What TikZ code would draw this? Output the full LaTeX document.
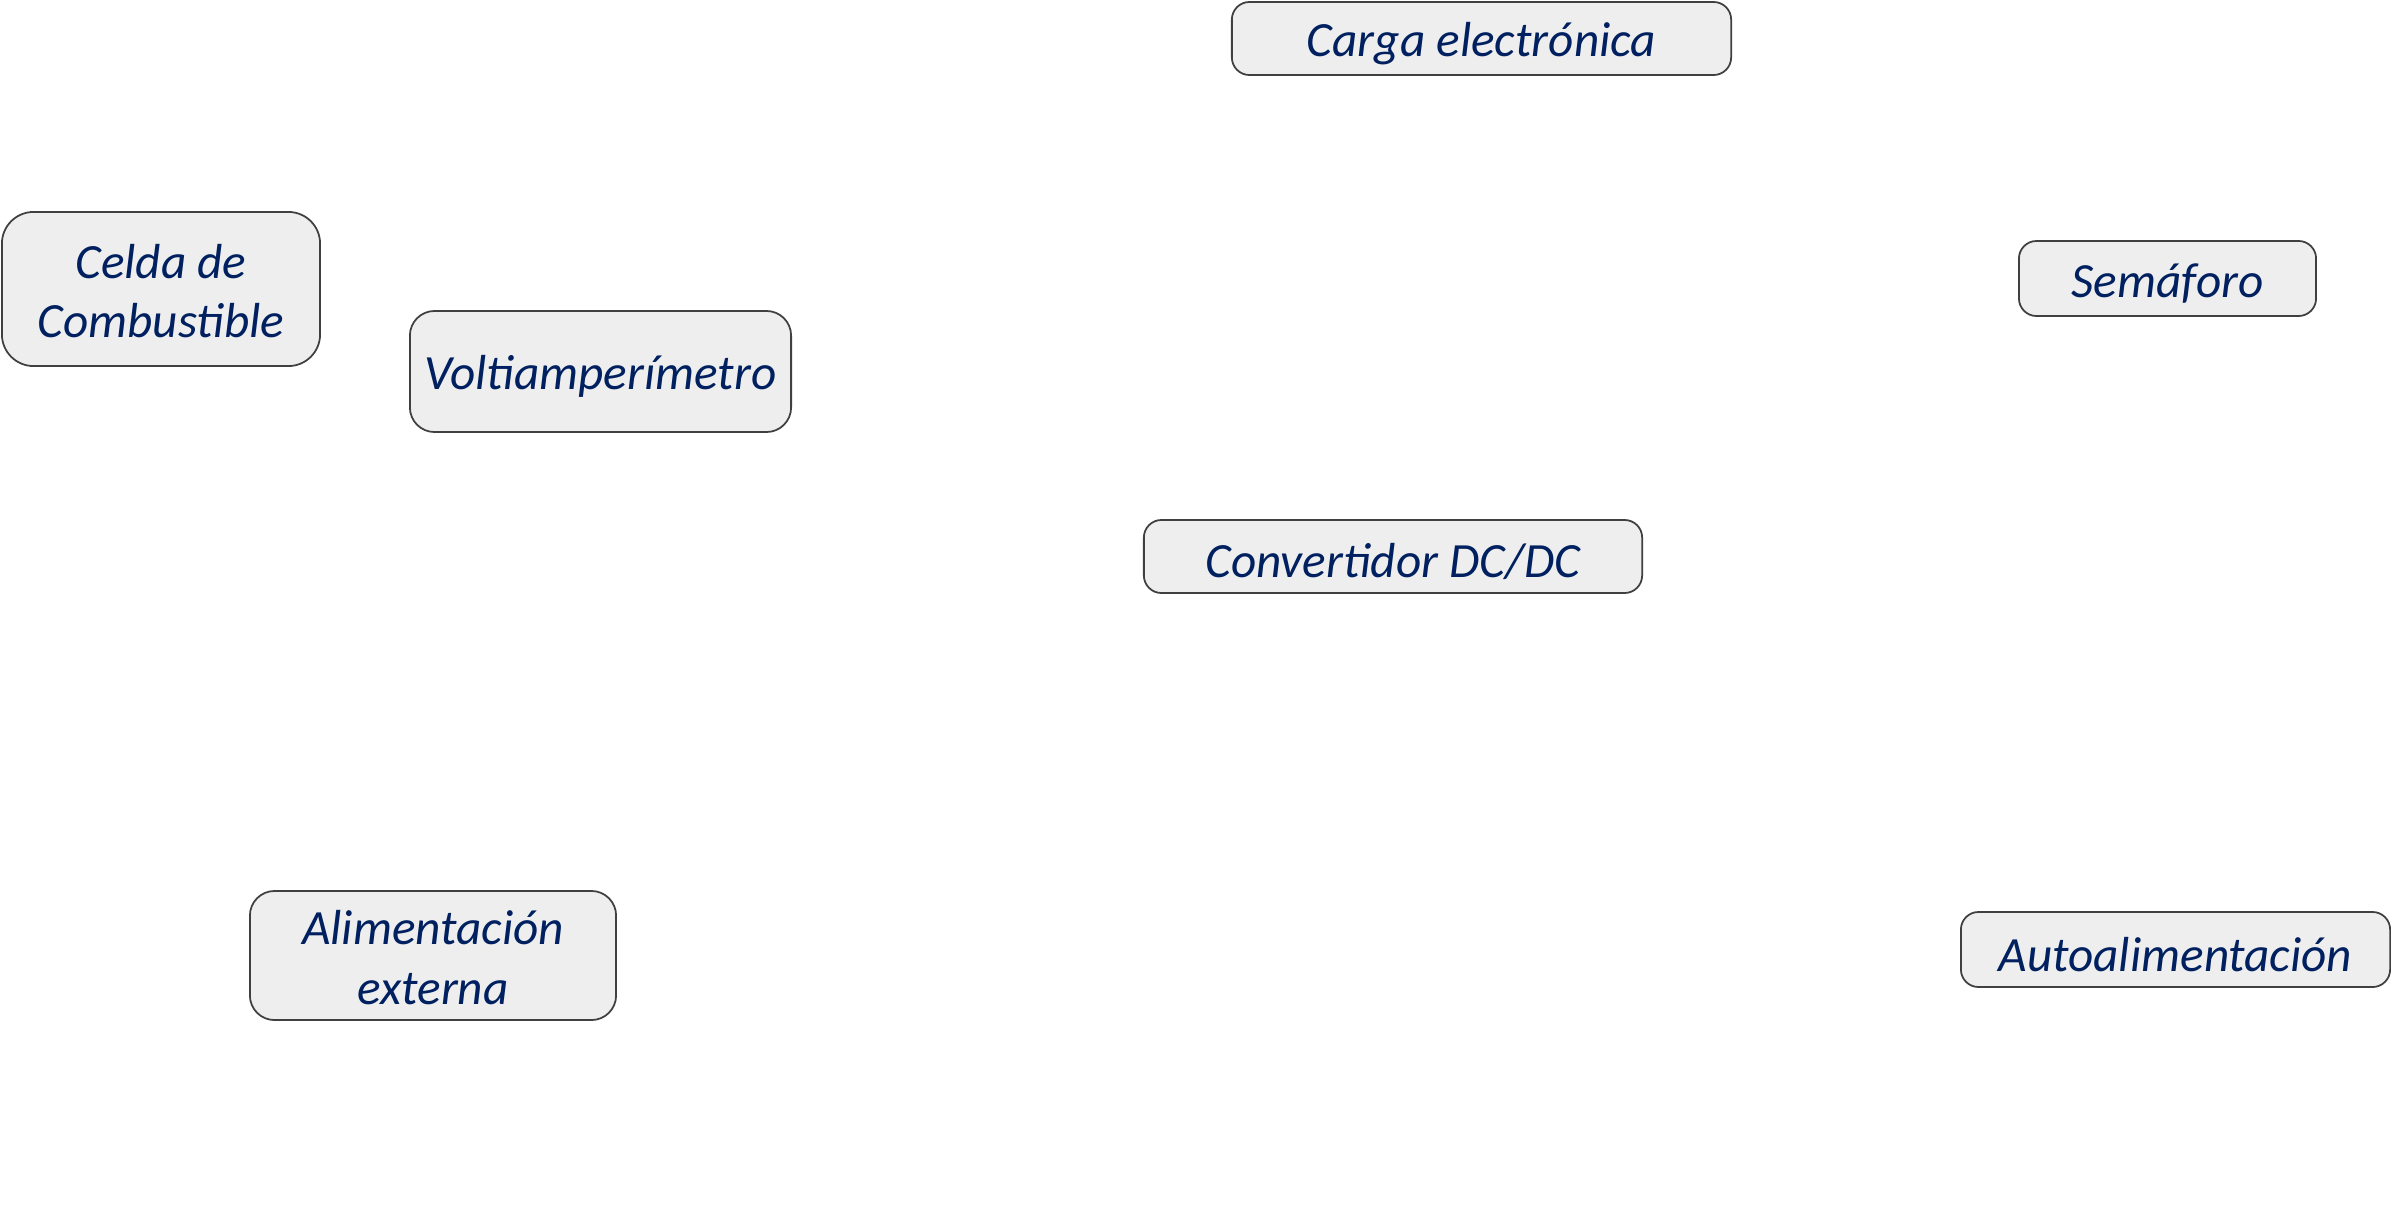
\documentclass[tikz,border=0pt]{standalone}
\usepackage{fontspec}
\setmainfont{Carlito}
\begin{document}
\begin{tikzpicture}[x=0.01cm,y=-0.01cm,
  box/.style={draw=black!75, line width=0.5pt, fill=boxgray, rounded corners=5pt,
    inner sep=0pt},
  lbl/.style={inner sep=0pt, align=center, text=navy,
    font=\fontsize{14pt}{17pt}\selectfont\itshape},
  one/.style={label={[lbl, yshift=-0.05cm]center:#1}},
  two/.style={label={[lbl, yshift=-0.02cm]center:#1}}]
\definecolor{navy}{HTML}{002060}
\definecolor{boxgray}{HTML}{EEEEEE}
\useasboundingbox (0,0) rectangle (2391,1212);
\node[box, minimum width=4.99cm, minimum height=0.73cm, one={Carga electrónica}] (carga) at (1481.5,38.5) {};
\node[box, rounded corners=9pt, minimum width=3.18cm, minimum height=1.54cm, two={Celda de\\Combustible}] (celda) at (161,289) {};
\node[box, rounded corners=7pt, minimum width=3.81cm, minimum height=1.21cm, one={Voltiamperímetro}] (volti) at (600.5,371.5) {};
\node[box, minimum width=2.97cm, minimum height=0.75cm, one={Semáforo}] (sema) at (2167.5,278.5) {};
\node[box, minimum width=4.98cm, minimum height=0.73cm, one={Convertidor DC/DC}] (conv) at (1393,556.5) {};
\node[box, rounded corners=7pt, minimum width=3.66cm, minimum height=1.29cm, two={Alimentación\\externa}] (alim) at (433,955.5) {};
\node[box, minimum width=4.29cm, minimum height=0.75cm, one={Autoalimentación}] (auto) at (2175.5,949.5) {};
\end{tikzpicture}
\end{document}
